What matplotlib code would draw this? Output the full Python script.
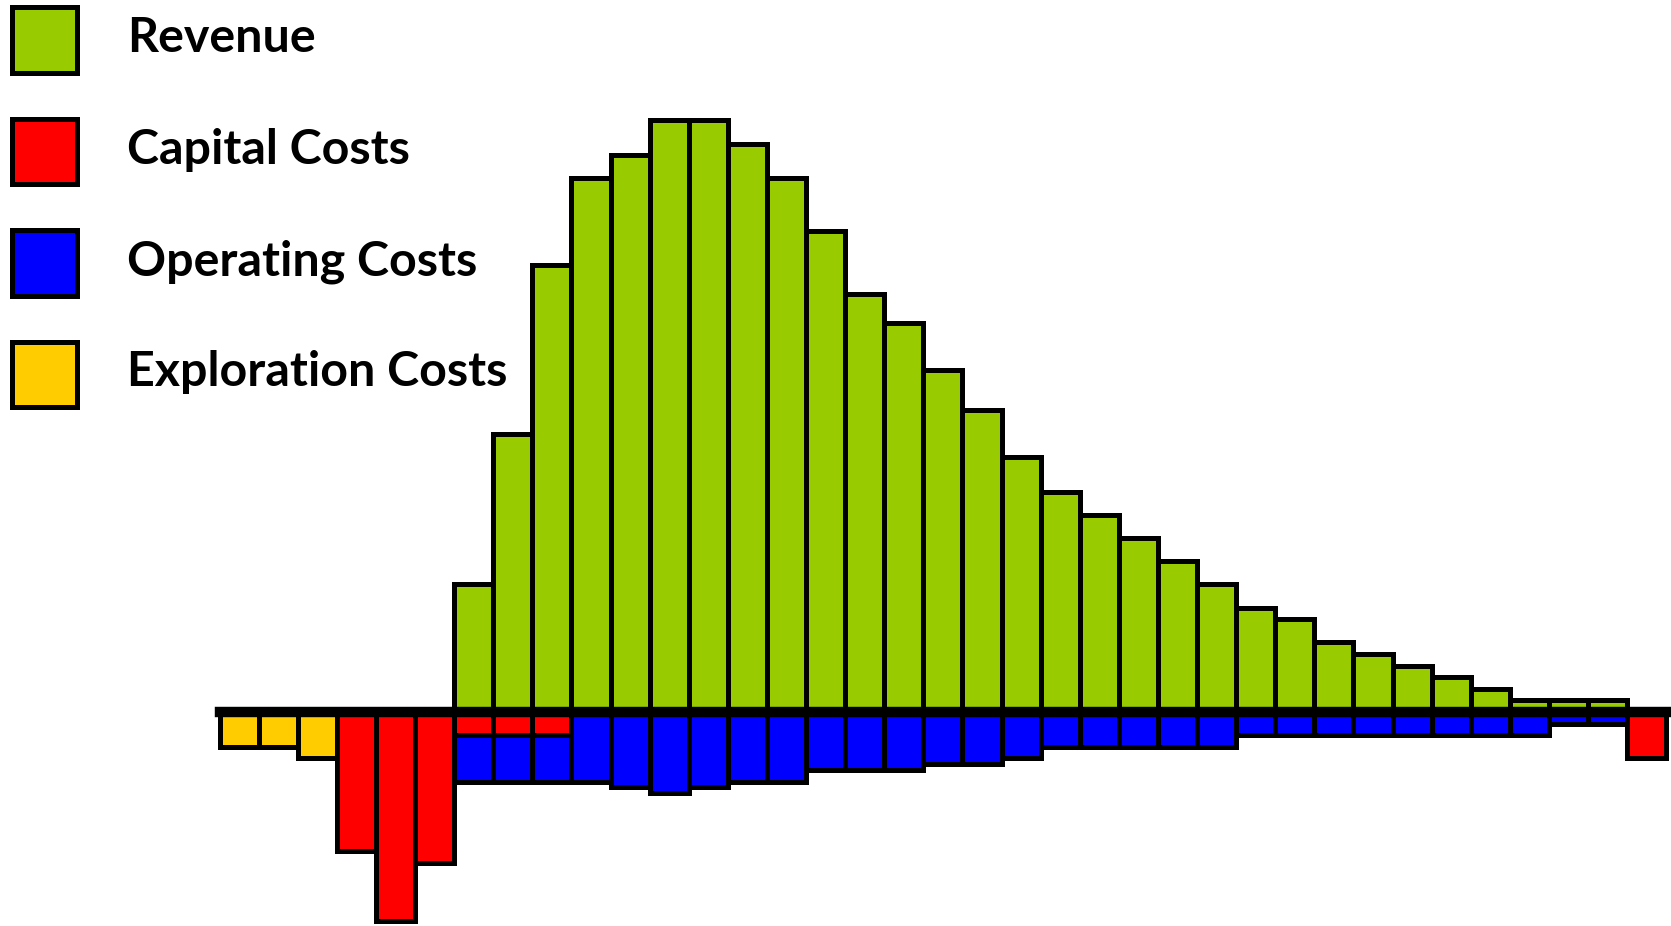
import numpy as np
import matplotlib
matplotlib.use("Agg")
import matplotlib.pyplot as plt
from matplotlib.patches import Rectangle

# 37 periods, values in arbitrary money units
periods = np.arange(37)
exploration = [3, 3, 4] + [0] * 34
capital = [0, 0, 0, 12, 18, 13, 2, 2, 2] + [0] * 27 + [4]
operating = ([0] * 6 +
             [4, 4, 4, 6, 6.5, 7, 6.5, 6, 6, 5, 5, 5, 4.5, 4.5, 4,
              3, 3, 3, 3, 3, 2, 2, 2, 2, 2, 2, 2, 2, 1, 1] +
             [0])
revenue = ([0] * 6 +
           [11, 24, 38.5, 46, 48, 51, 51, 49, 46, 41.5, 36, 33.5, 29.5, 26, 22,
            19, 17, 15, 13, 11, 9, 8, 6, 5, 4, 3, 2, 1, 1, 1] +
           [0])

labels = ["Revenue", "Capital Costs", "Operating Costs", "Exploration Costs"]
colors = ["#99CC00", "#FF0000", "#0000FF", "#FFCC00"]

exploration = np.array(exploration, float)
capital = np.array(capital, float)
operating = np.array(operating, float)
revenue = np.array(revenue, float)

W, H = 1671, 926
fig = plt.figure(figsize=(W / 100, H / 100), dpi=100)
ax = fig.add_axes([0, 0, 1, 1])
ax.axis("off")

lw = 3.6
def bars(vals, bottom, color):
    m = vals != 0
    b = bottom[m] if bottom is not None else 0
    ax.bar(periods[m], vals[m], width=1.0, bottom=b, color=color,
           edgecolor="black", linewidth=lw, zorder=2)

bars(revenue, None, colors[0])
bars(-exploration, None, colors[3])
bars(-capital, None, colors[1])
bars(-operating, -capital, colors[2])

# thick zero line
ax.plot([-0.5, 36.5], [0, 0], color="black", lw=7.5, zorder=3)

# map pixels: zero at y=712, 11.6 px per unit, bars 39.1 px wide
ax.set_ylim(-(H - 712) / 11.6, 712 / 11.6)
ax.set_xlim(-219.5 / 39.1 - 0.5, (W - 219.5) / 39.1 - 0.5)

# legend drawn by hand
for i, (lab, c) in enumerate(zip(labels, colors)):
    cy = 40 + i * 111.5
    fig.add_artist(Rectangle((11.5 / W, 1 - (cy + 32.5) / H), 65 / W, 65 / H,
                             transform=fig.transFigure, facecolor=c,
                             edgecolor="black", linewidth=lw))
    fig.text(127 / W, 1 - (cy + 12) / H, lab, fontsize=34.8, fontweight="bold",
             family=["Lato", "DejaVu Sans"], va="baseline", ha="left")

fig.savefig("out.png", dpi=100)
